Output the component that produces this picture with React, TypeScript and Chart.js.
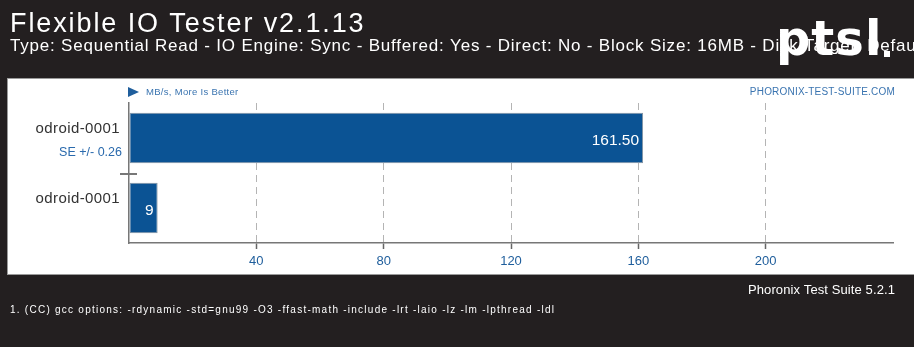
import React, { useEffect, useRef } from "react";
import { Chart, registerables } from "chart.js";

Chart.register(...registerables);

const title = "Flexible IO Tester v2.1.13";
const subtitle =
  "Type: Sequential Read - IO Engine: Sync - Buffered: Yes - Direct: No - Block Size: 16MB - Disk Target: Default Test Directory";
const categories = ["odroid-0001", "odroid-0001"];
const values = [161.5, 9];
const valueLabels = ["161.50", "9"];
const seLabels = ["SE +/- 0.26", ""];
const xTicks = [40, 80, 120, 160, 200];
const axisMax = 240;
const unitLabel = "MB/s, More Is Better";
const siteLabel = "PHORONIX-TEST-SUITE.COM";
const versionLabel = "Phoronix Test Suite 5.2.1";
const footNote =
  "1. (CC) gcc options: -rdynamic -std=gnu99 -O3 -ffast-math -include -lrt -laio -lz -lm -lpthread -ldl";

const FONT = '"Liberation Sans", Arial, sans-serif';
const DARK = "#231f20";
const BLUE = "#1f5e9c";

function text(ctx: any, s: string, x: number, y: number, font: string, spacing: number, maxW?: number) {
  ctx.font = font;
  ctx.letterSpacing = `${spacing}px`;
  if (maxW) ctx.fillText(s, x, y, maxW);
  else ctx.fillText(s, x, y);
  ctx.letterSpacing = "0px";
}

const decorPlugin = {
  id: "decor",
  beforeDraw(chart: any) {
    const { ctx, width, height } = chart;
    ctx.save();
    ctx.fillStyle = DARK;
    ctx.fillRect(0, 0, width, height);
    ctx.fillStyle = "#ffffff";
    ctx.fillRect(7, 78, width - 7, 197);
    ctx.strokeStyle = "#9a9a9a";
    ctx.lineWidth = 1;
    ctx.strokeRect(7.5, 78.5, width, 196);
    ctx.restore();
  },
  afterDraw(chart: any) {
    const { ctx } = chart;
    const xs = chart.scales.x;
    const ys = chart.scales.y;
    ctx.save();
    // header
    ctx.fillStyle = "#ffffff";
    ctx.textBaseline = "alphabetic";
    ctx.textAlign = "left";
    text(ctx, title, 10, 32, `27px ${FONT}`, 1.9);
    text(ctx, subtitle, 10, 51, `17px ${FONT}`, 0.8);
    // logo
    ctx.font = `bold 48px "DejaVu Sans", sans-serif`;
    ctx.letterSpacing = "1px";
    ctx.fillText("ptsl", 776, 55);
    ctx.letterSpacing = "0px";
    ctx.fillRect(884, 51, 6, 6);

    // unit label
    ctx.fillStyle = BLUE;
    ctx.beginPath();
    ctx.moveTo(128, 87);
    ctx.lineTo(139, 92);
    ctx.lineTo(128, 97);
    ctx.closePath();
    ctx.fill();
    ctx.textBaseline = "middle";
    ctx.fillStyle = "#3a74b0";
    text(ctx, unitLabel, 146, 92, `9.5px ${FONT}`, 0.3);
    ctx.textAlign = "right";
    text(ctx, siteLabel, 895, 92, `10px ${FONT}`, 0.2);

    // category labels
    categories.forEach((c, i) => {
      const y = ys.getPixelForValue(i);
      ctx.textAlign = "right";
      ctx.fillStyle = "#333333";
      text(ctx, c, 120, y - 9, `15px ${FONT}`, 0.4);
      if (seLabels[i]) {
        ctx.fillStyle = "#2a6aad";
        text(ctx, seLabels[i], 122, y + 15, `12.5px ${FONT}`, 0);
      }
      ctx.fillStyle = "#ffffff";
      text(ctx, valueLabels[i], xs.getPixelForValue(values[i]) - 4, y + 3, `15.5px ${FONT}`, 0);
    });

    // separator tick between categories
    const sepY = (ys.getPixelForValue(0) + ys.getPixelForValue(1)) / 2 + 1;
    ctx.strokeStyle = "#777777";
    ctx.lineWidth = 2;
    ctx.beginPath();
    ctx.moveTo(120, sepY);
    ctx.lineTo(137, sepY);
    ctx.stroke();

    // footer
    ctx.fillStyle = "#ffffff";
    ctx.textAlign = "right";
    text(ctx, versionLabel, 895, 290, `13px ${FONT}`, 0.1);
    ctx.textAlign = "left";
    text(ctx, footNote, 10, 310, `10px ${FONT}`, 1.25, 546);
    ctx.restore();
  },
};

export default function App() {
  const ref = useRef<HTMLCanvasElement | null>(null);
  useEffect(() => {
    document.body.style.margin = "0";
    const canvas = ref.current!;
    const chart = new Chart(canvas, {
      type: "bar",
      data: {
        labels: categories,
        datasets: [
          {
            data: values,
            backgroundColor: "#0b5394",
            borderColor: "#8593a1",
            borderWidth: 1,
            borderSkipped: false,
            categoryPercentage: 1,
            barPercentage: 0.72,
          },
        ],
      },
      options: {
        responsive: false,
        animation: false,
        devicePixelRatio: 1,
        indexAxis: "y",
        layout: { padding: { left: 129, right: 21, top: 103, bottom: 74 } },
        plugins: {
          legend: { display: false },
          tooltip: { enabled: false },
          title: { display: false },
        },
        scales: {
          x: {
            type: "linear",
            min: 0,
            max: axisMax,
            afterFit: (s: any) => {
              s.height = 30;
            },
            ticks: {
              stepSize: 40,
              autoSkip: false,
              maxRotation: 0,
              color: BLUE,
              padding: 5,
              font: { family: FONT, size: 13 },
              callback: (v: any) => (xTicks.includes(Number(v)) ? String(v) : ""),
            },
            grid: {
              color: (c: any) =>
                c.tick && xTicks.includes(c.tick.value) ? "#b4b4b4" : "rgba(0,0,0,0)",
              tickColor: (c: any) =>
                c.tick && xTicks.includes(c.tick.value) ? "#666666" : "rgba(0,0,0,0)",
              tickLength: 6,
              lineWidth: 1,
              tickWidth: 1.5,
            },
            border: { display: true, color: "#777777", width: 1.5, dash: [7, 5] },
          },
          y: {
            type: "category",
            afterFit: (s: any) => {
              s.width = 0;
            },
            ticks: { display: false },
            grid: { display: false, drawTicks: false },
            border: { display: true, color: "#777777", width: 1.5 },
          },
        },
      },
      plugins: [decorPlugin],
    } as any);
    return () => chart.destroy();
  }, []);
  return <canvas ref={ref} width={914} height={347} style={{ display: "block" }} />;
}
